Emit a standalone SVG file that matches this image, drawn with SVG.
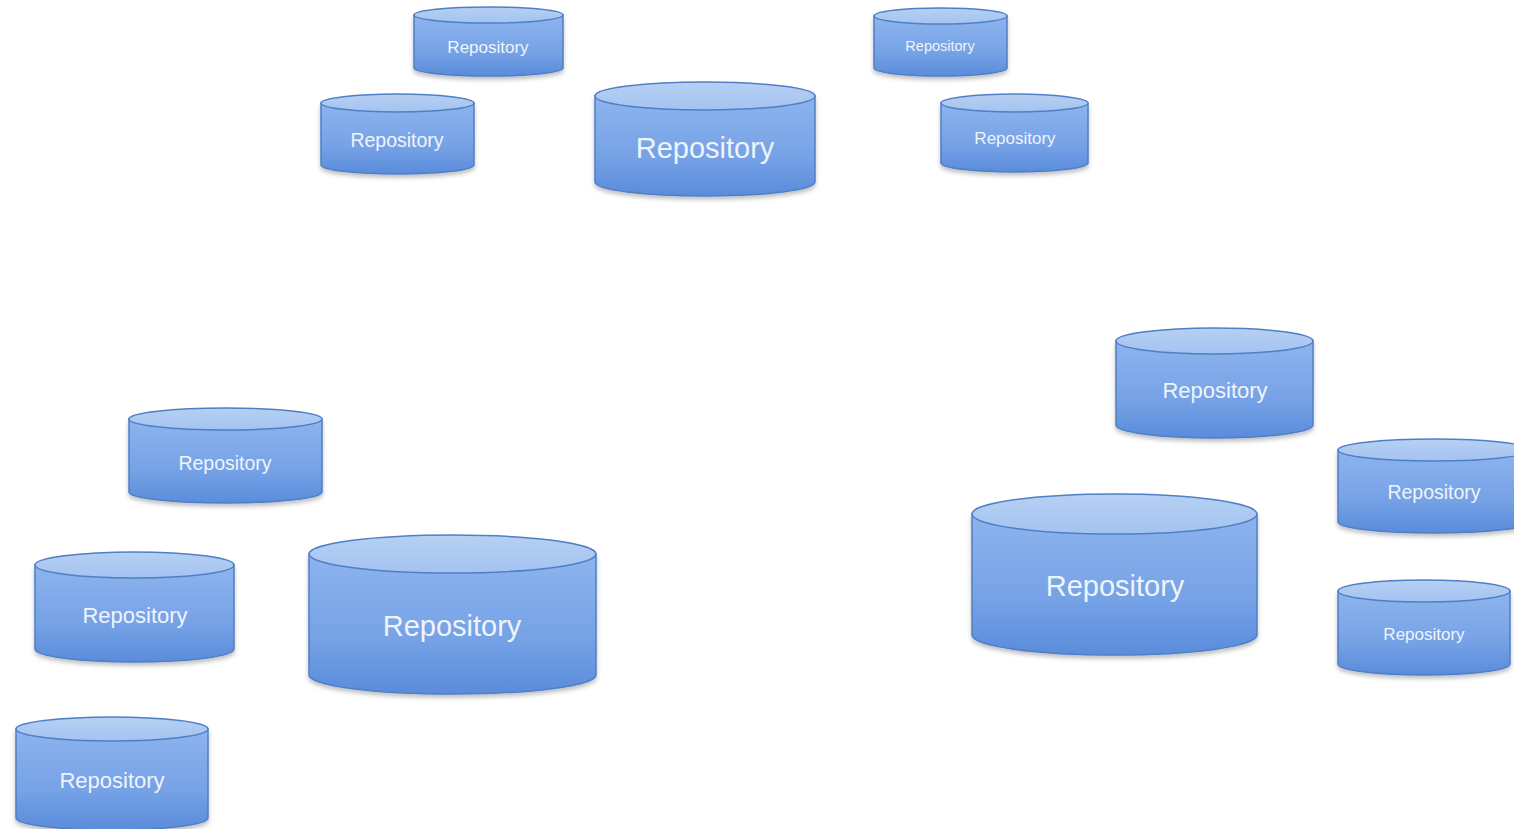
<svg xmlns="http://www.w3.org/2000/svg" width="1514" height="829" viewBox="0 0 1514 829">
<defs>
<linearGradient id="body" x1="0" y1="0" x2="0" y2="1">
<stop offset="0" stop-color="#8db4ee"/>
<stop offset="0.6" stop-color="#76a2e6"/>
<stop offset="1" stop-color="#5a8cdb"/>
</linearGradient>
<linearGradient id="top" x1="0" y1="0" x2="0" y2="1">
<stop offset="0" stop-color="#b7d0f3"/>
<stop offset="1" stop-color="#a3c3f0"/>
</linearGradient>
<filter id="sh" x="-10%" y="-10%" width="120%" height="130%">
<feDropShadow dx="0" dy="3" stdDeviation="2" flood-color="#000" flood-opacity="0.25"/>
</filter>
</defs>
<style>
.b{fill:url(#body);stroke:#4f7fc6;stroke-width:1.5;filter:url(#sh)}
.t{fill:url(#top);stroke:#4f7fc6;stroke-width:1.5}
.l{fill:#eef4fc;font-family:"Liberation Sans",Arial,sans-serif;text-anchor:middle}
</style>
<rect width="1514" height="829" fill="#ffffff"/>
<g id="n1"><path class="b" d="M414,15 L414,68 A74.5,8 0 0 0 563,68 L563,15 Z"/><ellipse class="t" cx="488.5" cy="15" rx="74.5" ry="8"/><text class="l" x="488" y="53" font-size="17">Repository</text></g>
<g id="n2"><path class="b" d="M321,103 L321,165 A76.5,9 0 0 0 474,165 L474,103 Z"/><ellipse class="t" cx="397.5" cy="103" rx="76.5" ry="9"/><text class="l" x="397" y="147" font-size="19.5">Repository</text></g>
<g id="n3"><path class="b" d="M595,96 L595,182 A110,14 0 0 0 815,182 L815,96 Z"/><ellipse class="t" cx="705" cy="96" rx="110" ry="14"/><text class="l" x="705" y="158" font-size="29">Repository</text></g>
<g id="n4"><path class="b" d="M874,16 L874,68 A66.5,8 0 0 0 1007,68 L1007,16 Z"/><ellipse class="t" cx="940.5" cy="16" rx="66.5" ry="8"/><text class="l" x="940" y="51" font-size="14.5">Repository</text></g>
<g id="n5"><path class="b" d="M941,103 L941,163 A73.5,9 0 0 0 1088,163 L1088,103 Z"/><ellipse class="t" cx="1014.5" cy="103" rx="73.5" ry="9"/><text class="l" x="1015" y="144" font-size="17">Repository</text></g>
<g id="n6"><path class="b" d="M1116,341 L1116,425 A98.5,13 0 0 0 1313,425 L1313,341 Z"/><ellipse class="t" cx="1214.5" cy="341" rx="98.5" ry="13"/><text class="l" x="1215" y="398" font-size="22">Repository</text></g>
<g id="n7"><path class="b" d="M1338,450 L1338,522 A96,11 0 0 0 1530,522 L1530,450 Z"/><ellipse class="t" cx="1434" cy="450" rx="96" ry="11"/><text class="l" x="1434" y="499" font-size="19.5">Repository</text></g>
<g id="n8"><path class="b" d="M1338,591 L1338,664 A86,11 0 0 0 1510,664 L1510,591 Z"/><ellipse class="t" cx="1424" cy="591" rx="86" ry="11"/><text class="l" x="1424" y="640" font-size="17">Repository</text></g>
<g id="n9"><path class="b" d="M972,514 L972,635 A142.5,20 0 0 0 1257,635 L1257,514 Z"/><ellipse class="t" cx="1114.5" cy="514" rx="142.5" ry="20"/><text class="l" x="1115" y="596" font-size="29">Repository</text></g>
<g id="n10"><path class="b" d="M129,419 L129,492 A96.5,11 0 0 0 322,492 L322,419 Z"/><ellipse class="t" cx="225.5" cy="419" rx="96.5" ry="11"/><text class="l" x="225" y="470" font-size="19.5">Repository</text></g>
<g id="n11"><path class="b" d="M35,565 L35,649 A99.5,13 0 0 0 234,649 L234,565 Z"/><ellipse class="t" cx="134.5" cy="565" rx="99.5" ry="13"/><text class="l" x="135" y="623" font-size="22">Repository</text></g>
<g id="n12"><path class="b" d="M309,554 L309,675 A143.5,19 0 0 0 596,675 L596,554 Z"/><ellipse class="t" cx="452.5" cy="554" rx="143.5" ry="19"/><text class="l" x="452" y="636" font-size="29">Repository</text></g>
<g id="n13"><path class="b" d="M16,729 L16,818 A96,12 0 0 0 208,818 L208,729 Z"/><ellipse class="t" cx="112" cy="729" rx="96" ry="12"/><text class="l" x="112" y="788" font-size="22">Repository</text></g>
<g id="connectors"></g>
</svg>
